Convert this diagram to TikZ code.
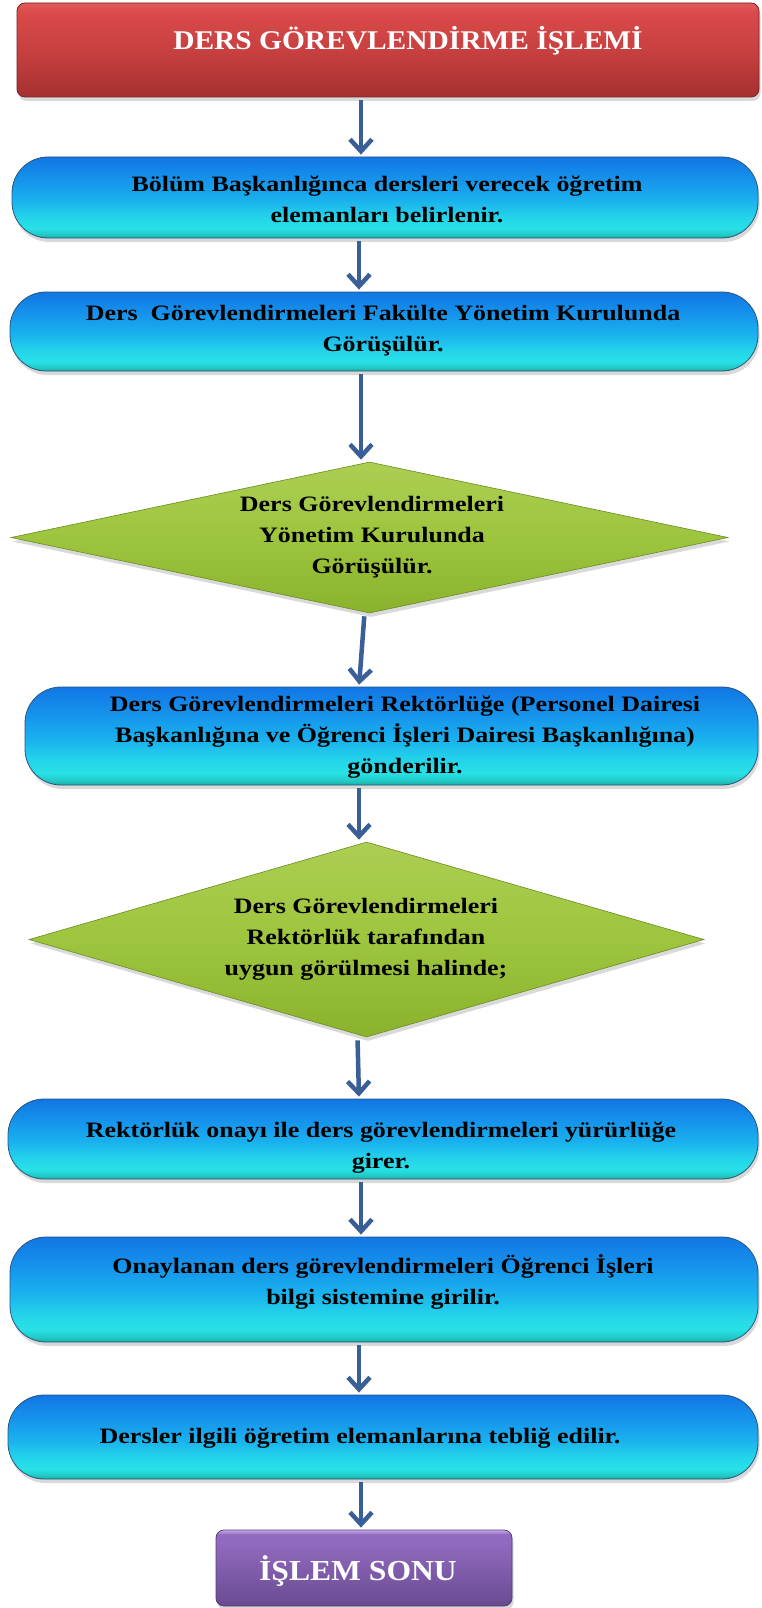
\documentclass[tikz,border=0pt]{standalone}
\usepackage{fontspec}
\setmainfont{Liberation Serif}[FakeStretch=1.18]
\newfontfamily\headfont{Liberation Serif}[FakeStretch=1.09]
\usetikzlibrary{shapes.geometric,arrows.meta,shadows}

% palette
\definecolor{redHi}{RGB}{226,90,90}
\definecolor{redTop}{RGB}{218,74,74}
\definecolor{redMid}{RGB}{200,64,64}
\definecolor{redBot}{RGB}{165,48,48}
\definecolor{redEdge}{RGB}{120,35,35}
\definecolor{cyTop}{RGB}{18,118,228}
\definecolor{cyUp}{RGB}{22,150,236}
\definecolor{cyHi}{RGB}{26,178,238}
\definecolor{cyMid}{RGB}{36,212,234}
\definecolor{cyLow}{RGB}{40,225,230}
\definecolor{cyBand}{RGB}{32,200,195}
\definecolor{cyBot}{RGB}{28,168,165}
\definecolor{cyEdge}{RGB}{40,85,125}
\definecolor{grTop}{RGB}{172,206,82}
\definecolor{grMid}{RGB}{158,197,62}
\definecolor{grBot}{RGB}{138,178,44}
\definecolor{grEdge}{RGB}{105,140,35}
\definecolor{puHi}{RGB}{200,170,240}
\definecolor{puMid}{RGB}{145,105,190}
\definecolor{puBot}{RGB}{105,75,145}
\definecolor{puEdge}{RGB}{85,60,115}
\definecolor{arrowblue}{RGB}{58,95,150}

% vertical shadings (path box maps onto 25bp..75bp)
\pgfdeclareverticalshading{redbar}{100bp}{color(0bp)=(redBot); color(25bp)=(redBot); color(50bp)=(redMid); color(70bp)=(redTop); color(75bp)=(redHi); color(100bp)=(redHi)}
\pgfdeclareverticalshading{cyanbar}{100bp}{color(0bp)=(cyBot); color(25bp)=(cyBot); color(27bp)=(cyBand); color(31bp)=(cyLow); color(38bp)=(cyMid); color(48bp)=(cyHi); color(60bp)=(cyUp); color(75bp)=(cyTop); color(100bp)=(cyTop)}
\pgfdeclareverticalshading{greenbar}{100bp}{color(0bp)=(grBot); color(25bp)=(grBot); color(50bp)=(grMid); color(75bp)=(grTop); color(100bp)=(grTop)}
\pgfdeclareverticalshading{purplebar}{100bp}{color(0bp)=(puBot); color(25bp)=(puBot); color(66bp)=(puMid); color(72bp)=(puMid); color(75bp)=(puHi); color(100bp)=(puHi)}

\begin{document}
\begin{tikzpicture}[x=1pt,y=1pt,
  softshadow/.style={drop shadow={shadow xshift=1.5pt,shadow yshift=-4pt,opacity=0.3}},
  titlebox/.style={draw=redEdge,line width=0.8pt,rounded corners=8pt,shading=redbar,softshadow,inner sep=0pt},
  stepbox/.style={draw=cyEdge,line width=0.8pt,rounded corners=36pt,shading=cyanbar,softshadow,inner sep=0pt},
  decision/.style={diamond,draw=grEdge,line width=0.6pt,shading=greenbar,softshadow,inner sep=0pt},
  endbox/.style={draw=puEdge,line width=0.8pt,rounded corners=8pt,shading=purplebar,softshadow,inner sep=0pt},
  txt/.style={align=center,inner sep=0pt,font=\fontsize{22}{31}\bfseries\selectfont},
  headtxt/.style={inner sep=0pt,text=white,font=\headfont\fontsize{27}{32}\bfseries\selectfont},
  arr/.style={draw=arrowblue,line width=4.5pt,shorten <=3pt,shorten >=2pt,
              -{Straight Barb[length=12pt,width=22pt]}}
]
\useasboundingbox (0,0) rectangle (761,-1608);

% shapes
\node[titlebox,minimum width=742pt,minimum height=94pt] (top) at (388,-50) {};
\node[stepbox,minimum width=746pt,minimum height=81pt] (s1) at (385,-197.5) {};
\node[stepbox,minimum width=748pt,minimum height=79pt] (s2) at (384,-331.5) {};
\node[decision,minimum width=717pt,minimum height=151pt] (d1) at (369.5,-537.5) {};
\node[stepbox,minimum width=733pt,minimum height=98pt] (s3) at (391.5,-736) {};
\node[decision,minimum width=675pt,minimum height=195pt] (d2) at (366.5,-939.5) {};
\node[stepbox,minimum width=750pt,minimum height=80pt] (s4) at (383,-1139) {};
\node[stepbox,minimum width=748pt,minimum height=105pt] (s5) at (384,-1289.5) {};
\node[stepbox,minimum width=750pt,minimum height=84pt] (s6) at (383,-1437) {};
\node[endbox,minimum width=296pt,minimum height=76pt] (fin) at (364,-1568) {};

% labels
\node[headtxt] (toptxt) at (408,-41) {DERS GÖREVLENDİRME İŞLEMİ};
\node[txt] (s1txt) at (387,-199) {Bölüm Başkanlığınca dersleri verecek öğretim\\elemanları belirlenir.};
\node[txt] (s2txt) at (383,-331) {Ders~ Görevlendirmeleri Fakülte Yönetim Kurulunda\\Görüşülür.};
\node[txt] (d1txt) at (372,-537) {Ders Görevlendirmeleri\\Yönetim Kurulunda\\Görüşülür.};
\node[txt] (s3txt) at (405,-737) {Ders Görevlendirmeleri Rektörlüğe (Personel Dairesi\\Başkanlığına ve Öğrenci İşleri Dairesi Başkanlığına)\\gönderilir.};
\node[txt] (d2txt) at (366,-939) {Ders Görevlendirmeleri\\Rektörlük tarafından\\uygun görülmesi halinde;};
\node[txt] (s4txt) at (381,-1148) {Rektörlük onayı ile ders görevlendirmeleri yürürlüğe\\girer.};
\node[txt] (s5txt) at (383,-1282) {Onaylanan ders görevlendirmeleri Öğrenci İşleri\\bilgi sistemine girilir.};
\node[txt] (s6txt) at (360,-1438) {Dersler ilgili öğretim elemanlarına tebliğ edilir.};
\node[headtxt,font=\headfont\fontsize{29}{34}\bfseries\selectfont] (fintxt) at (358,-1571) {İŞLEM SONU};

% connectors
\coordinate (ax) at (361,0);
\coordinate (bx) at (359,0);
\draw[arr] (top.south -| ax) -- (s1.north -| ax);
\draw[arr] (s1.south -| bx) -- (s2.north -| bx);
\draw[arr] (s2.south -| ax) -- (d1.north -| ax);
\draw[arr] ([xshift=-5pt]d1.south) -- (s3.north -| bx);
\draw[arr] (s3.south -| bx) -- (d2.north -| bx);
\draw[arr] ([xshift=-9pt]d2.south) -- (s4.north -| bx);
\draw[arr] (s4.south -| ax) -- (s5.north -| ax);
\draw[arr] (s5.south -| bx) -- (s6.north -| bx);
\draw[arr] (s6.south -| ax) -- (fin.north -| ax);
\end{tikzpicture}
\end{document}
